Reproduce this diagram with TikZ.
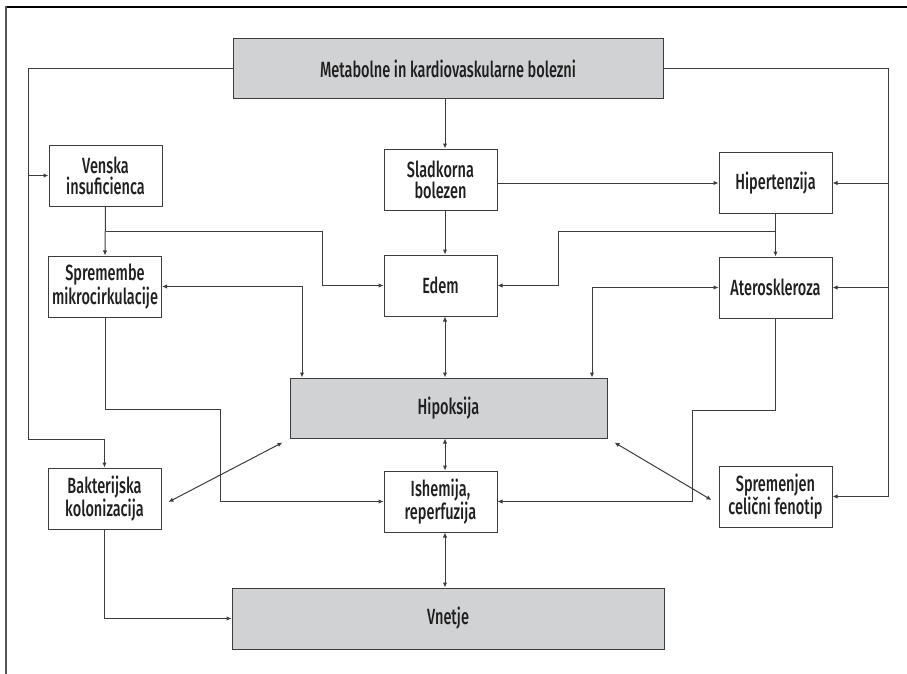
\documentclass[tikz,border=0pt]{standalone}
\usepackage{fontspec}
\setmainfont{Fira Sans Medium}[FakeStretch=0.66]
\usepackage{tikz}
\usetikzlibrary{calc,arrows.meta}
\definecolor{boxgray}{HTML}{D1D2D4}
\definecolor{linegray}{HTML}{3C3C3C}
\definecolor{framegray}{HTML}{555555}

\begin{document}
\begin{tikzpicture}[x=1pt,y=-1pt,
    box/.style={draw=linegray, line width=1pt, fill=white, minimum width=113pt, minimum height=61pt, inner sep=0pt, align=center, font=\fontsize{22}{21}\selectfont, text=black!88},
    bigbox/.style={box, fill=boxgray, minimum height=60pt},
    arr/.style={draw=linegray, line width=1pt, -{Latex[length=5pt,width=4.5pt]}},
    dbl/.style={draw=linegray, line width=1pt, {Latex[length=5pt,width=4.5pt]}-{Latex[length=5pt,width=4.5pt]}}]
\useasboundingbox (0,0) rectangle (907,674);
% frame
\draw[line width=2pt] (5,7) -- (907,7);
\draw[line width=2pt, framegray] (6,674) -- (6,6);
% boxes
\node[bigbox, minimum width=430pt] (meta) at (448,69) {Metabolne in kardiovaskularne bolezni};
\node[box] (venska) at (105.5,175.5) {Venska\\insuficienca};
\node[box] (sladk) at (440.5,179.5) {Sladkorna\\bolezen};
\node[box] (hiper) at (775.5,183) {Hipertenzija};
\node[box] (sprem) at (105,286.5) {Spremembe\\mikrocirkulacije};
\node[box] (edem) at (440.5,285.5) {Edem};
\node[box] (atero) at (775.5,287.5) {Ateroskleroza};
\node[bigbox, minimum width=317pt] (hipok) at (448.5,408) {Hipoksija};
\node[box] (bakt) at (104.5,498.5) {Bakterijska\\kolonizacija};
\node[box] (ishem) at (440.5,501.5) {Ishemija,\\reperfuzija};
\node[box] (spfen) at (775.5,496.5) {Spremenjen\\celični fenotip};
\node[bigbox, minimum width=432pt, minimum height=61pt] (vnet) at (448,618.5) {Vnetje};
% helper coordinates
\coordinate (cx) at (445,0);
\coordinate (lft) at (28,439);
\coordinate (rgt) at (888,0);
\coordinate (v1) at (322,231);
\coordinate (h1) at (558,231);
\coordinate (s1) at (302,0);
\coordinate (a1) at (592,0);
\coordinate (s2) at (220,409);
\coordinate (a2) at (692,410);
% outer lines
\draw[arr] (meta.west) -| (lft) -| (bakt.north);
\draw[arr] (venska.west -| lft) -- (venska.west);
\draw[arr] (meta.east) -| (rgt |- spfen.east) -- (spfen.east);
\draw[arr] (hiper.east -| rgt) -- (hiper.east);
\draw[arr] (atero.east -| rgt) -- (atero.east);
% centre column
\draw[arr] (meta.south -| cx) -- (sladk.north -| cx);
\draw[arr] (sladk.south -| cx) -- (edem.north -| cx);
\draw[dbl] (edem.south -| cx) -- (hipok.north -| cx);
\draw[dbl] (hipok.south -| cx) -- (ishem.north -| cx);
\draw[dbl] (ishem.south -| cx) -- (vnet.north -| cx);
\draw[arr] (sladk.east |- hiper.west) -- (hiper.west);
% left side
\draw[arr] (venska.south) -- (sprem.north);
\draw[arr] (venska.south |- v1) -- (v1) |- (edem.west);
\draw[dbl] (sprem.east) -| (s1 |- hipok.north);
\draw[arr] (sprem.south) |- (s2) |- (ishem.west);
\draw[arr] (bakt.south) |- (vnet.west);
\draw[dbl] ($(bakt.east)+(7,3.5)$) -- ($(hipok.south west)+(-7,4)$);
% right side
\draw[arr] (hiper.south) -- (atero.north);
\draw[arr] (hiper.south |- h1) -- (h1) |- (edem.east);
\draw[dbl] (atero.west) -| (a1 |- hipok.north);
\draw[arr] (atero.south) |- (a2) |- (ishem.east);
\draw[dbl] ($(hipok.south east)+(7,4)$) -- ($(spfen.west)+(-7,3.5)$);
\end{tikzpicture}
\end{document}
